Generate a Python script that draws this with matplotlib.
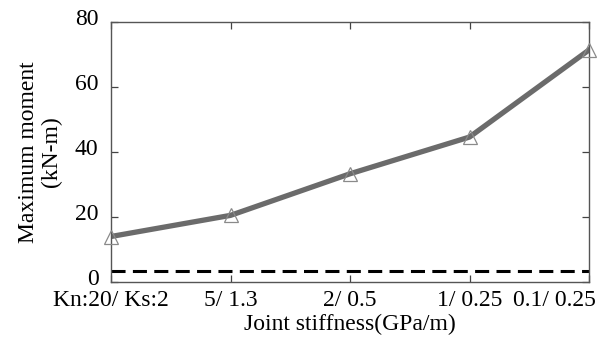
import numpy as np
import matplotlib.pyplot as plt
from matplotlib.transforms import ScaledTranslation

plt.rcParams['font.family'] = ['Liberation Serif', 'DejaVu Serif']

categories = ['Kn:20/ Ks:2', '5/ 1.3', '2/ 0.5', '1/ 0.25', '0.1/ 0.25']
moment = [14.0, 20.5, 33.3, 44.6, 71.4]
limit_value = 3.5

x = np.arange(len(categories))

fig = plt.figure(figsize=(6.07, 3.47), dpi=100)
ax = fig.add_axes([111 / 607, 1 - 282 / 347, 478 / 607, 260 / 347])

ax.plot(x, moment, color='#6b6b6b', lw=3.8, zorder=2)
ax.plot(x, moment, ls='none', marker='^', ms=10, mfc='none', mec='#8a8a8a',
        mew=0.9, zorder=3, clip_on=False)
ax.axhline(limit_value, color='black', lw=2.2, ls=(0, (4.6, 2.4)), zorder=1)

ax.set_xlim(0, 4)
ax.set_ylim(0, 80)
ax.set_xticks(x)
ax.set_xticklabels(categories)
ax.set_yticks([0, 20, 40, 60, 80])
ax.tick_params(direction='in', length=5, width=0.9, color='#444444',
               top=True, right=True, labelsize=17)
ax.tick_params(axis='x', pad=6)
ax.tick_params(axis='y', pad=9)
for s in ax.spines.values():
    s.set_color('#555555')
    s.set_linewidth(1.0)

# last label sits shifted left so it stays inside the figure
last = ax.get_xticklabels()[-1]
last.set_transform(last.get_transform() + ScaledTranslation(-35 / 100, 0, fig.dpi_scale_trans))

# y labels sit a little above their ticks
for lab in ax.get_yticklabels():
    lab.set_transform(lab.get_transform() + ScaledTranslation(0, 5 / 100, fig.dpi_scale_trans))

ax.set_xlabel('Joint stiffness(GPa/m)', fontsize=17, labelpad=2)
ax.set_ylabel('Maximum moment\n(kN-m)', fontsize=17, labelpad=9, linespacing=1.15)

fig.savefig('out.png', dpi=100)
